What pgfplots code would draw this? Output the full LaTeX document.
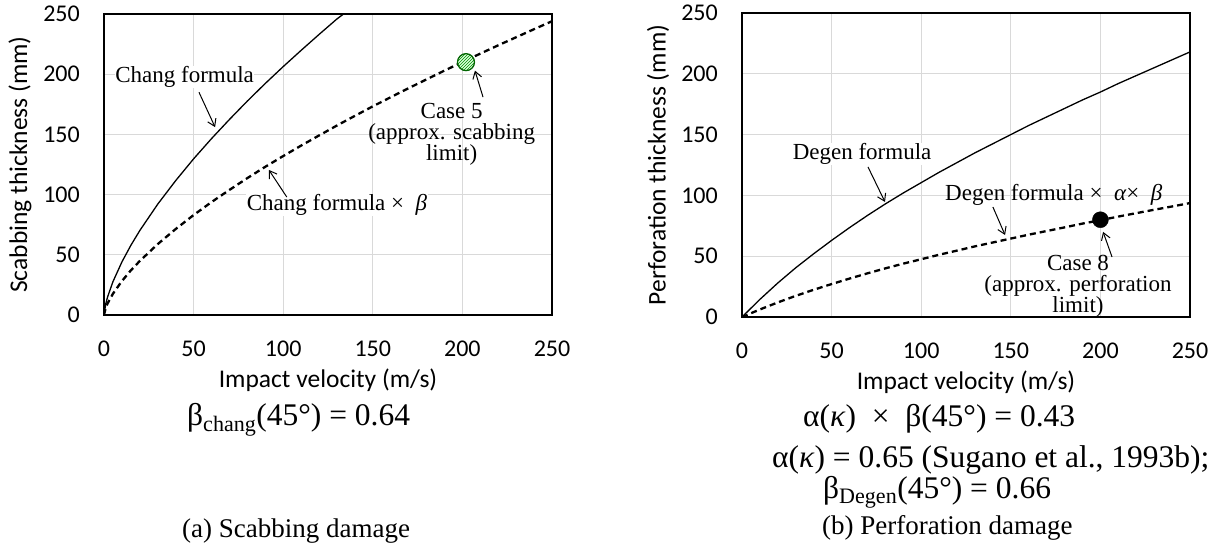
\documentclass[border=0pt]{standalone}
\usepackage{fontspec}
\setmainfont{Liberation Serif}
\newfontfamily\calfont{Carlito}
\usepackage{pgfplots}
\pgfplotsset{compat=1.18}
\usetikzlibrary{arrows.meta,patterns}

% shared look of both panels (1pt = 1px of the reference)
\pgfplotsset{
  dmg/.style={
    scale only axis, width=448pt, anchor=south west,
    xmin=0, xmax=250, ymin=0, ymax=250,
    xtick={0,50,...,250}, ytick={0,50,...,250},
    grid=major, major grid style={gray!30, line width=0.8pt},
    axis line style={line width=1.8pt},
    major tick length=0pt,
    /pgf/number format/assume math mode=true,
    tick label style={font=\calfont\fontsize{24}{24}\selectfont, inner sep=0pt},
    xticklabel style={anchor=center, yshift=-34pt},
    yticklabel style={anchor=east, xshift=-24pt},
    label style={font=\calfont\fontsize{25.5}{26}\selectfont},
    xlabel style={at={(axis description cs:0.5,0)}, anchor=center, yshift=-65pt},
    ylabel style={at={(axis description cs:-0.1875,0.5)}, anchor=center},
    clip mode=individual,
  },
  base/.style={black, line width=1.3pt},
  reduced/.style={black, line width=2.3pt, dash pattern=on 6pt off 4pt},
}
\tikzset{
  ann/.style={font=\fontsize{23}{21}\selectfont, align=center, inner sep=0.5pt},
  arr/.style={-{Straight Barb[length=7pt,width=9pt]}, line width=1pt},
  eq/.style={font=\fontsize{31.5}{32}\selectfont, anchor=base west, inner sep=0pt},
}

\begin{document}
\begin{tikzpicture}
\useasboundingbox (0,0) rectangle (1222pt,546pt);

% (a) scabbing
\begin{axis}[dmg, at={(104pt,231pt)}, height=301pt,
  xlabel={Impact velocity (m/s)}, ylabel={Scabbing thickness (mm)}]
\addplot[base] coordinates {
  (0,0) (1,9.4) (2,15.0) (5,27.7) (10,44.1) (15,57.9) (20,70.2) (30,92.1)
  (40,111.6) (50,129.7) (60,146.5) (70,162.4) (80,177.7) (90,192.3)
  (100,206.3) (110,219.8) (120,233.0) (130,245.9) (135,251.5)
};
\addplot[reduced] coordinates {
  (0,0) (1,6.0) (2,9.6) (5,17.7) (10,28.2) (15,37.1) (20,44.9) (30,58.9)
  (40,71.4) (50,83.0) (60,93.8) (70,103.9) (80,113.7) (90,123.1) (100,132.0)
  (110,140.7) (120,149.1) (130,157.4) (140,165.4) (150,173.3) (160,180.9)
  (170,188.4) (180,195.7) (190,203.0) (200,210.1) (210,217.1) (220,224.0)
  (230,230.7) (240,237.4) (250,244.0)
};
\addplot[only marks, mark=*, mark size=8.5pt,
  mark options={fill=green!15, draw=none}] coordinates {(202,210)};
\addplot[only marks, mark=*, mark size=8.5pt,
  mark options={pattern=north east lines, pattern color=green!55!black,
  draw=black!60!green, line width=1.2pt}] coordinates {(202,210)};
\node[ann, fill=white] at (axis cs:45,198) {Chang formula};
\draw[arr] (axis cs:53,185) -- (axis cs:62,156);
\node[ann, fill=white] at (axis cs:130,91.5) {Chang formula ×\ \ \textit{β}};
\draw[arr] (axis cs:102,98) -- (axis cs:92,120.5);
\node[ann] at (axis cs:194,150) {Case 5\\(approx. scabbing\\limit)};
\draw[arr] (axis cs:211.5,181) -- (axis cs:207,203);
\end{axis}

% (b) perforation
\begin{axis}[dmg, at={(742pt,229pt)}, height=304pt,
  xlabel={Impact velocity (m/s)}, ylabel={Perforation thickness (mm)}]
\addplot[base] coordinates {
  (0,0) (10,14.5) (20,28) (30,40.5) (40,52) (50,63) (60,73.5) (70,83.5)
  (80,93) (90,102) (100,110.5) (110,119) (120,127) (130,135) (140,142.5)
  (150,150) (160,157.5) (170,164.5) (180,171.5) (190,178.5) (200,185)
  (210,192) (220,198.5) (230,205) (240,211.5) (250,218)
};
\addplot[reduced] coordinates {
  (0,0) (10,6.2) (20,12.0) (30,17.4) (40,22.4) (50,27.1) (60,31.6) (70,35.9)
  (80,40.0) (90,43.9) (100,47.5) (110,51.2) (120,54.6) (130,58.1) (140,61.3)
  (150,64.5) (160,67.7) (170,70.7) (180,73.7) (190,76.8) (200,79.6)
  (210,82.6) (220,85.4) (230,88.2) (240,90.9) (250,93.7)
};
\addplot[only marks, mark=*, mark size=8pt, mark options={fill=black}]
  coordinates {(200,80)};
\node[ann, fill=white] at (axis cs:67,134) {Degen formula};
\draw[arr] (axis cs:70.3,123.4) -- (axis cs:79.8,94.6);
\node[ann] at (axis cs:174,100.3) {Degen formula ×\ \ \textit{α}×\ \ \textit{β}};
\draw[arr] (axis cs:140,90.5) -- (axis cs:146.8,67.4);
\node[ann] at (axis cs:187.5,25) {Case 8\\(approx. perforation\\limit)};
\draw[arr] (axis cs:206.5,49.3) -- (axis cs:201.5,70);
\end{axis}

% factors and captions
\node[eq] at (187pt,121pt) {β\textsubscript{chang}(45°) = 0.64};
\node[eq] at (803pt,119pt) {α(\textit{κ})\ \ ×\ \ β(45°) = 0.43};
\node[eq] at (772pt,79pt) {α(\textit{κ}) = 0.65 (Sugano et al., 1993b);};
\node[eq] at (823pt,48pt) {β\textsubscript{Degen}(45°) = 0.66};
\node[font=\fontsize{27}{27}\selectfont, anchor=base west, inner sep=0pt]
  at (182pt,9pt) {(a) Scabbing damage};
\node[font=\fontsize{27}{27}\selectfont, anchor=base west, inner sep=0pt]
  at (822pt,12pt) {(b) Perforation damage};
\end{tikzpicture}
\end{document}
